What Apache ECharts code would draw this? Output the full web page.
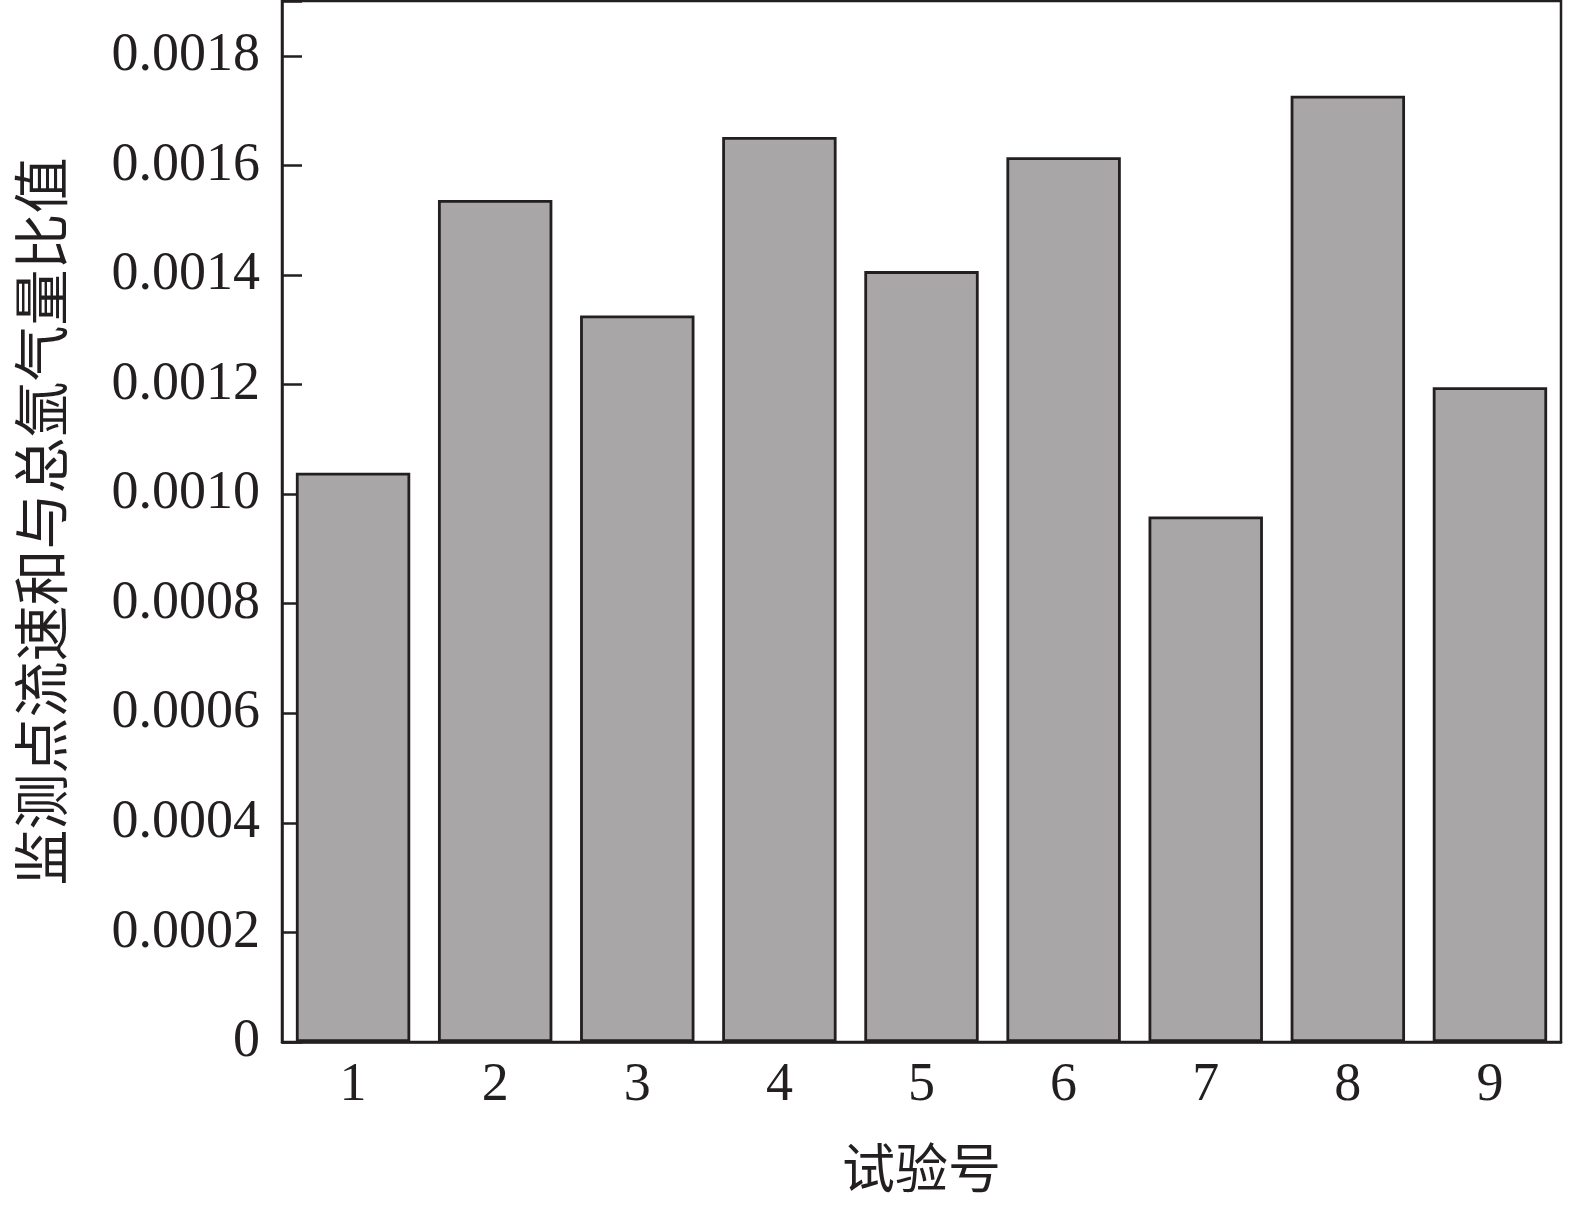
<!DOCTYPE html>
<html>
<head>
<meta charset="utf-8">
<script src="https://cdn.jsdelivr.net/npm/echarts@6/dist/echarts.min.js"></script>
<style>html,body{margin:0;padding:0;background:#fff}#c{width:1575px;height:1213px}</style>
</head>
<body>
<div id="c"></div>
<script>
const categories = ['1','2','3','4','5','6','7','8','9'];
const ratioValues = [0.001039, 0.001537, 0.001326, 0.001652, 0.001407, 0.001615, 0.000959, 0.001727, 0.001195];
const yName = '监测点流速和与总氩气量比值';
const xName = '试验号';

const chart = echarts.init(document.getElementById('c'), null, {renderer: 'canvas'});
const ink = '#231f20';
chart.setOption({
  animation: false,
  backgroundColor: '#fff',
  grid: {left: 282, top: 1, right: 14, bottom: 171, containLabel: false, outerBoundsMode: 'none', show: true, borderColor: ink, borderWidth: 2.5, backgroundColor: 'transparent'},
  xAxis: {
    type: 'category',
    data: categories,
    name: xName,
    nameLocation: 'middle',
    nameGap: 99,
    nameMoveOverlap: false,
    nameTextStyle: {fontFamily: 'Noto Sans CJK SC', fontSize: 53, color: ink},
    axisLine: {lineStyle: {color: ink, width: 2.5}},
    axisTick: {inside: true, alignWithLabel: true, length: 19, lineStyle: {color: ink, width: 2.5}},
    axisLabel: {margin: 17, fontFamily: 'Liberation Serif', fontSize: 54, color: ink}
  },
  yAxis: {
    type: 'value',
    min: 0,
    max: 0.0019,
    interval: 0.0002,
    name: yName,
    nameLocation: 'middle',
    nameRotate: 90,
    nameGap: 213,
    nameMoveOverlap: false,
    nameTextStyle: {fontFamily: 'Noto Sans CJK SC', fontSize: 56, color: ink},
    splitLine: {show: false},
    axisLine: {show: true, lineStyle: {color: ink, width: 2.5}},
    axisTick: {show: true, inside: true, length: 20, lineStyle: {color: ink, width: 2.5}},
    axisLabel: {
      margin: 22, fontFamily: 'Liberation Serif', fontSize: 54, color: ink,
      formatter: v => v === 0 ? '0' : (v > 0.00185 ? '' : v.toFixed(4))
    }
  },
  series: [{
    type: 'bar',
    data: ratioValues,
    barCategoryGap: '19.5%',
    itemStyle: {color: '#a8a6a7', borderColor: ink, borderWidth: 2.8}
  }]
});
</script>
</body>
</html>
